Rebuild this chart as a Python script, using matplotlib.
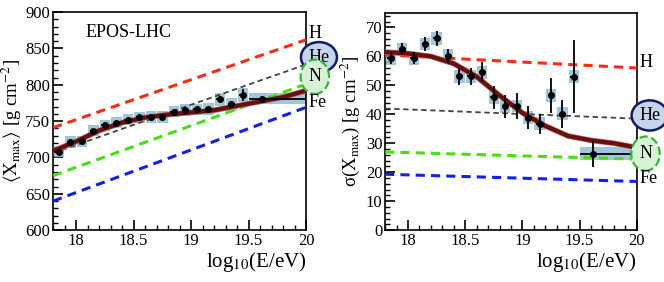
import matplotlib
matplotlib.use("Agg")
import matplotlib.pyplot as plt
import numpy as np

plt.rcParams['font.family'] = ['Liberation Serif', 'DejaVu Serif']
plt.rcParams['mathtext.fontset'] = 'stix'

# energy bins (log10 E/eV)
lgE = [17.85, 17.95, 18.05, 18.15, 18.25, 18.35, 18.45, 18.55, 18.65, 18.75,
       18.85, 18.95, 19.05, 19.15, 19.25, 19.35, 19.45, 19.62]

# <Xmax> data
xmax_mean = [708, 721, 722, 737, 744, 748, 752, 755, 756, 756,
             763, 765, 766, 767, 780, 773, 786, 781]
xmax_err = [3, 2, 2, 2, 2, 2, 2, 2, 2, 2, 2, 2, 2, 3, 4, 4, 8, 3]
xmax_sys = [8, 8, 8, 8, 8, 8, 8, 8, 8, 8, 8, 8, 8, 8, 9, 9, 10, 8]

# sigma(Xmax) data
sig_mean = [59.4, 62.5, 59.4, 64.3, 66.2, 60.2, 53.1, 53.1, 54.5, 45.9,
            42.7, 42.9, 38.8, 36.7, 46.5, 40.2, 53.0, 26.4]
sig_err = [2, 2, 2, 2.5, 2.5, 2.5, 3, 3, 3.5, 4, 4, 4.5, 4, 3.5, 6, 4.8, 12.5, 4.5]
sig_sys = [2.2, 2.2, 2.2, 2.2, 2.2, 2.2, 2.2, 2.2, 2.2, 2.2, 2.2, 2.2, 2.2, 2.2, 2.2, 2.2, 2.2, 2.2]

# model predictions (EPOS-LHC), endpoints at lgE = 17.8 and 20
model_x = [17.8, 20.0]
models = ['H', 'He', 'N', 'Fe']
model_colors = ['#ff2a10', '#444444', '#44e010', '#1020f0']
xmax_model = {'H': [741, 862], 'He': [706, 828], 'N': [675, 801], 'Fe': [640, 769]}
sig_model = {'H': [60.5, 56.0], 'He': [42.0, 38.5], 'N': [27.0, 24.5], 'Fe': [19.3, 16.8]}

# fitted mixture curves
fit_x = [17.8, 18.0, 18.2, 18.4, 18.6, 18.8, 19.0, 19.2, 19.4, 19.6, 19.8, 20.0]
xmax_fit = [709, 722, 737, 748, 755, 759, 762, 765, 771, 777, 783, 792]
sig_fit = [61.5, 61.0, 60.0, 57.5, 53.0, 46.5, 40.5, 36.0, 32.5, 31.0, 30.0, 28.5]

label_y_xmax = {'H': 871, 'He': 838, 'N': 811, 'Fe': 776}
label_y_sig = {'H': 58.0, 'He': 39.6, 'N': 26.4, 'Fe': 17.8}

sys_color = '#8fbcd4'
fit_color = '#6a0f0f'


def draw_panel(ax, mean, err, sys, model, fit, label_y, ylim, yticks, minor):
    # systematic boxes
    for i, x in enumerate(lgE):
        if i == len(lgE) - 1:
            x0, w = 19.5, 0.5
        else:
            x0, w = x - 0.045, 0.09
        ax.add_patch(plt.Rectangle((x0, mean[i] - sys[i]), w, 2 * sys[i],
                                   fc=sys_color, ec='none', alpha=0.85, zorder=2))
    # models
    for m, c in zip(models, model_colors):
        lw = 1.3 if m == 'He' else 2.2
        ax.plot(model_x, model[m], ls=(0, (3, 2)), color=c, lw=lw, zorder=3)
    # fit curve
    ax.plot(fit_x, fit, color='#b07070', lw=4, zorder=4, solid_capstyle='round')
    ax.plot(fit_x, fit, color=fit_color, lw=3, zorder=5, solid_capstyle='round')
    # data
    xe_lo = [0.03] * (len(lgE) - 1) + [0.12]
    xe_hi = [0.03] * (len(lgE) - 1) + [0.38]
    ax.errorbar(lgE, mean, yerr=err, xerr=[xe_lo, xe_hi], fmt='o', color='black',
                ms=4, elinewidth=1.3, capsize=0, zorder=6)
    # labels
    for m in models:
        kw = {}
        if m == 'He':
            kw['bbox'] = dict(boxstyle='ellipse,pad=0.12', fc='#c5d5ec', ec='#141a66', lw=1.8)
        if m == 'N':
            kw['bbox'] = dict(boxstyle='ellipse,pad=0.2', fc='#d8f2d8', ec='#30b830', lw=1.6, ls='--')
        ax.text(20.02, label_y[m], m, fontsize=13, va='center', ha='left',
                clip_on=False, zorder=7, **kw)
    ax.set_xlim(17.8, 20)
    ax.set_ylim(*ylim)
    ax.set_xticks([18, 18.5, 19, 19.5, 20])
    ax.set_xticklabels(['18', '18.5', '19', '19.5', '20'])
    ax.set_yticks(yticks)
    ax.set_xticks(np.arange(17.8, 20.001, 0.1), minor=True)
    ax.set_yticks(minor, minor=True)
    ax.tick_params(which='both', direction='in', labelsize=12, top=False, right=False, pad=2)
    ax.tick_params(which='major', length=7, width=1.2)
    ax.tick_params(which='minor', length=3.5, width=1)
    for s in ax.spines.values():
        s.set_linewidth(1.2)
    ax.set_xlabel(r'log$_{10}$(E/eV)', fontsize=15, loc='right', labelpad=1)


fig = plt.figure(figsize=(6.64, 2.82), dpi=100)
ax1 = fig.add_axes([0.080, 0.184, 0.381, 0.773])
ax2 = fig.add_axes([0.580, 0.184, 0.379, 0.770])

draw_panel(ax1, xmax_mean, xmax_err, xmax_sys, xmax_model, xmax_fit, label_y_xmax,
           (600, 900), np.arange(600, 901, 50), np.arange(600, 901, 10))
ax1.set_ylabel(r'$\langle\mathrm{X}_{\rm max}\rangle$ [g cm$^{-2}$]', fontsize=13.5, labelpad=1)
ax1.text(18.08, 872, 'EPOS-LHC', fontsize=13, va='center')

draw_panel(ax2, sig_mean, sig_err, sig_sys, sig_model, sig_fit, label_y_sig,
           (0, 75), np.arange(0, 71, 10), np.arange(0, 75.1, 2))
ax2.set_ylabel('σ(X$_{\\rm max}$) [g cm$^{-2}$]', fontsize=13.5, labelpad=3)

fig.savefig('out.png', dpi=100)
